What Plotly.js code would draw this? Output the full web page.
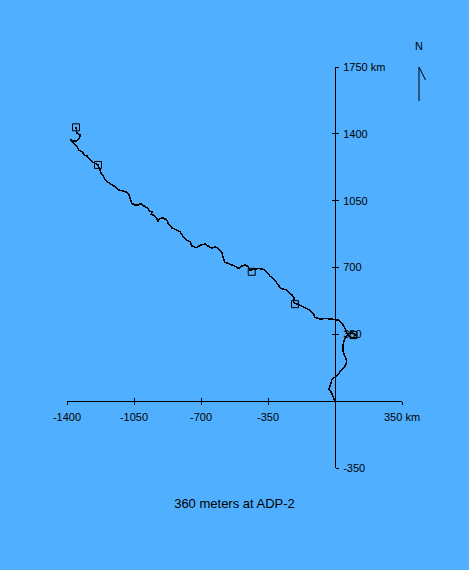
<!DOCTYPE html>
<html>
<head>
<meta charset="utf-8">
<script src="https://cdn.plot.ly/plotly-3.0.1.min.js"></script>
<style>
  html, body { margin: 0; padding: 0; background: #50b0ff; }
  #chart { width: 469px; height: 570px; }
  .scatterlayer .js-line { shape-rendering: crispEdges; }
</style>
</head>
<body>
<div id="chart"></div>
<script>
// Progressive vector track (km east, km north)
const trackX = [0, -8.9, -17.2, -20.9, -31.3, -26.1, -17.2, -8.9, 3.7, 14.1, 26.1, 43.4, 55.9, 61.1, 57.5, 48.6, 43.4, 40.2, 43.4, 48.6,
  55.9, 69.5, 87.2, 104.5, 113.4, 100.8, 78.4, 61.1, 52.2, 43.4, 35, 20.9, 3.7, -17.2, -52.2, -78.4, -104.5, -113.4, -130.6, -147.8,
  -165.6, -191.7, -209, -217.8, -212.6, -223, -235, -244, -252, -270, -287, -296, -304.6, -318.7, -339.6, -356.8, -374.6, -400.7, -426.8, -444,
  -453, -470, -487.4, -505, -522, -539.6, -557.4, -574.6, -583.5, -586.7, -592, -609.6, -627, -644, -662, -679, -696, -726, -747, -757.5,
  -774.7, -792.5, -809.7, -827, -853, -871, -879, -897, -914, -927, -931.5, -949, -961, -953, -966, -978.5, -992.5, -1010, -1019, -1027.6, -1045, -1062, -1071,
  -1078.7, -1095.5, -1112.7, -1130, -1147.7, -1165, -1182, -1200, -1208, -1221, -1231, -1238, -1260.5, -1278, -1295.6, -1307.6, -1321.7, -1339, -1348, -1365,
  -1383, -1374, -1357, -1336, -1331, -1348, -1353];
const trackY = [0, 19.4, 31.4, 48.7, 61.3, 83.8, 110, 119, 127, 136, 153.5, 171, 188.6, 206, 223.7, 241, 258, 284.5, 302, 319.6,
  337, 351, 358, 351, 337, 328.5, 337, 358, 381, 398, 410, 424, 428, 430, 433, 430, 438.6, 459.5, 477, 486,
  494, 506.7, 512, 520, 538, 555, 564, 573, 582, 587, 594, 608, 622, 639, 655, 677.5, 690, 695, 690, 686,
  704, 713, 707, 695, 707, 713, 721.5, 727, 748, 765, 782, 800, 808.5, 800, 812, 822.7, 820, 804, 812, 835,
  843.6, 861, 887, 896, 908, 931, 948, 960.5, 957, 940.6, 960.5, 974.6, 977, 993, 992, 1010, 1018, 1027, 1036, 1027, 1027, 1036, 1062,
  1088, 1097, 1102, 1106, 1123, 1132, 1144, 1158, 1175, 1193, 1214, 1237, 1249, 1263, 1284, 1289, 1306, 1315, 1336, 1350,
  1371, 1368, 1359, 1377, 1394, 1403, 1434];

// Square markers along the track
const markX = [96.6, -209, -435, -1238, -1353];
const markY = [346, 508, 677.5, 1237, 1434];

// Axis ticks
const xTickVals = [-1400, -1050, -700, -350, 350];
const xTickText = ['-1400', '-1050', '-700', '-350', '350 km'];
const yTickVals = [-350, 350, 700, 1050, 1400, 1750];
const yTickText = ['-350', '350', '700', '1050', '1400', '1750 km'];

const xRange = [-1400, 350];
const yRange = [-350, 1750];

const titleText = '360 meters at ADP-2';

const FONT = 'Liberation Sans, Arial, sans-serif';
const BG = '#50b0ff';

const traces = [
  {
    x: trackX, y: trackY, type: 'scatter', mode: 'lines',
    line: { color: '#000000', width: 1.5 },
    hoverinfo: 'skip', xaxis: 'x', yaxis: 'y'
  },
  {
    x: markX, y: markY, type: 'scatter', mode: 'markers',
    marker: { symbol: 'square-open', size: 7, color: '#000000', line: { width: 1, color: '#000000' } },
    hoverinfo: 'skip', xaxis: 'x', yaxis: 'y'
  }
];

const xPos = (0 - yRange[0]) / (yRange[1] - yRange[0]);
const yPos = (0 - xRange[0]) / (xRange[1] - xRange[0]);

const common = {
  showgrid: false, zeroline: false, showline: true,
  linecolor: '#000000', linewidth: 1, tickcolor: '#000000', tickwidth: 1, ticklen: 3,
  fixedrange: true, automargin: false
};

const layout = {
  width: 469, height: 570,
  paper_bgcolor: BG, plot_bgcolor: BG,
  margin: { l: 67, r: 67, t: 67, b: 102, pad: 0 },
  showlegend: false,
  font: { family: FONT, size: 11, color: '#000000' },
  title: {
    text: titleText, font: { family: FONT, size: 13, color: '#000000' },
    x: 0.5, xref: 'container', xanchor: 'center',
    y: 1 - 503 / 570, yref: 'container', yanchor: 'middle'
  },
  xaxis: Object.assign({}, common, {
    range: xRange, anchor: 'free', position: xPos, side: 'bottom',
    ticks: 'outside', tickmode: 'array', tickvals: xTickVals, ticktext: xTickText,
    ticklabelstandoff: 3,
    tickfont: { family: FONT, size: 11, color: '#000000' }
  }),
  xaxis2: Object.assign({}, common, {
    range: xRange, anchor: 'free', position: xPos, overlaying: 'x', side: 'bottom',
    ticks: 'inside', tickmode: 'array', tickvals: xTickVals, showticklabels: false
  }),
  yaxis: Object.assign({}, common, {
    range: yRange, anchor: 'free', position: yPos, side: 'right',
    ticks: 'outside', tickmode: 'array', tickvals: yTickVals, ticktext: yTickText,
    ticklabelstandoff: 2,
    tickfont: { family: FONT, size: 11, color: '#000000' }
  }),
  yaxis2: Object.assign({}, common, {
    range: yRange, anchor: 'free', position: yPos, overlaying: 'y', side: 'right',
    ticks: 'inside', tickmode: 'array', tickvals: yTickVals, showticklabels: false
  }),
  annotations: [
    { text: 'N', xref: 'paper', yref: 'paper', x: (419 - 67) / 335, y: (468 - 46) / 401,
      showarrow: false, xanchor: 'center', yanchor: 'middle',
      font: { family: FONT, size: 11, color: '#000000' } }
  ],
  shapes: [
    { type: 'line', xref: 'paper', yref: 'paper',
      x0: (419 - 67) / 335, y0: (468 - 101) / 401, x1: (419 - 67) / 335, y1: (468 - 67) / 401,
      line: { color: '#000000', width: 1 } },
    { type: 'line', xref: 'paper', yref: 'paper',
      x0: (419 - 67) / 335, y0: (468 - 67) / 401, x1: (425.5 - 67) / 335, y1: (468 - 80) / 401,
      line: { color: '#000000', width: 1 } }
  ]
};

// empty trace so the overlay axes render
traces.push({ x: [], y: [], type: 'scatter', xaxis: 'x2', yaxis: 'y2', hoverinfo: 'skip' });

Plotly.newPlot('chart', traces, layout, { staticPlot: true, displayModeBar: false });
</script>
</body>
</html>
